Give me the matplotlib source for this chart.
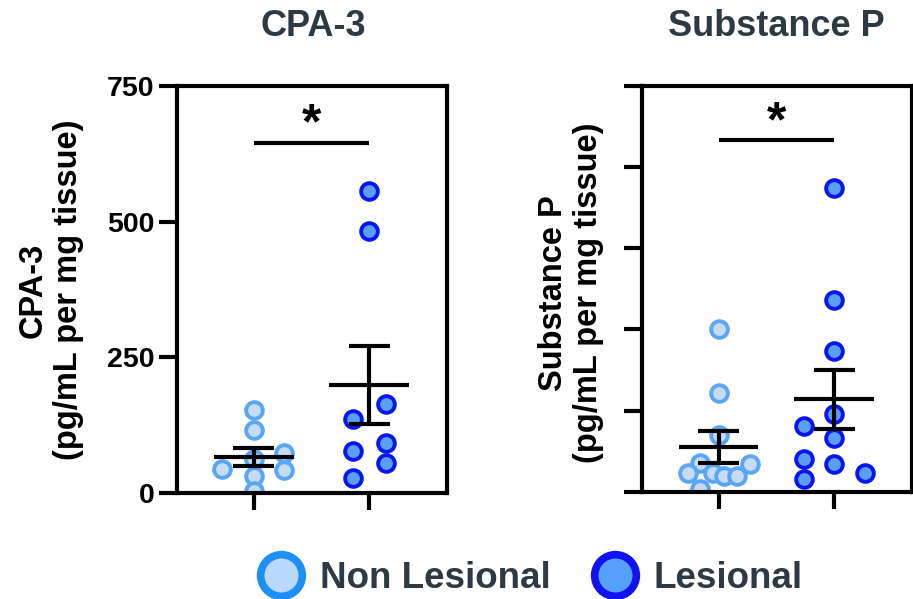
import numpy as np
import matplotlib
matplotlib.use("Agg")
import matplotlib.pyplot as plt
from matplotlib.lines import Line2D

plt.rcParams['font.family'] = ['Liberation Sans', 'DejaVu Sans']
plt.rcParams['font.weight'] = 'bold'

# data
groups = ["Non Lesional", "Lesional"]

cpa_non = [152, 116, 73, 63, 43, 42, 31, 4]
cpa_les = [557, 483, 163, 135, 92, 77, 55, 27]
cpa_sig = 645

sp_non = [100, 61, 35, 17.5, 17, 11.7, 11.3, 9.7, 9.7, 1.5]
sp_les = [187, 118, 87, 48, 40.5, 33, 20, 17, 11.3, 7.6]
sp_sig = 216.5

cpa_ticks = [0, 250, 500, 750]
sp_ticks = [0, 50, 100, 150, 200, 250]

# scatter layout (horizontal spread of the dots)
cpa_non_dx = [0, 0, 0.26, 0, -0.27, 0.26, 0, 0]
cpa_les_dx = [0, 0, 0.145, -0.14, 0.145, -0.14, 0.145, -0.14]
sp_non_dx = [0, 0, 0, -0.16, 0.27, -0.26, -0.05, 0.05, 0.16, -0.16]
sp_les_dx = [0, 0, 0, 0, -0.26, 0, -0.26, 0, 0.265, -0.26]

face = ['#c6dcf6', '#5a9ff5']
edge = ['#5aa6f5', '#0a16ef']
dark = '#2e3a43'


def panel(ax, non, les, non_dx, les_dx, sig, ticks, show_labels):
    for i, (vals, dx) in enumerate([(non, non_dx), (les, les_dx)]):
        ax.plot(i + np.array(dx), vals, 'o', ms=12, mew=2.8,
                mfc=face[i], mec=edge[i], zorder=2)
        m = np.mean(vals)
        s = np.std(vals, ddof=1) / np.sqrt(len(vals))
        ax.hlines(m, i - 0.345, i + 0.345, color='black', lw=3, zorder=3)
        ax.vlines(i, m - s, m + s, color='black', lw=3, zorder=3)
        ax.hlines([m - s, m + s], i - 0.176, i + 0.176, color='black', lw=3, zorder=3)
    ax.plot([0, 1], [sig, sig], color='black', lw=3, solid_capstyle='butt', clip_on=False)
    ax.annotate('*', xy=(0.5, sig), xytext=(0, 3), textcoords='offset points',
                ha='center', va='baseline', fontsize=36, fontweight='bold')
    ax.set_xlim(-0.665, 1.67)
    ax.set_ylim(ticks[0], ticks[-1])
    ax.set_yticks(ticks)
    ax.set_xticks([0, 1])
    ax.set_xticklabels([])
    if not show_labels:
        ax.set_yticklabels([])
    for sp in ax.spines.values():
        sp.set_linewidth(3)
    ax.tick_params(axis='y', length=13, width=3, pad=3, labelsize=20.5)
    ax.tick_params(axis='x', length=12, width=3)


fig = plt.figure(figsize=(9.13, 5.99), dpi=100)
ax1 = fig.add_axes([0.1935, 0.1775, 0.2961, 0.6789])
ax2 = fig.add_axes([0.7028, 0.1791, 0.2957, 0.6773])

panel(ax1, cpa_non, cpa_les, cpa_non_dx, cpa_les_dx, cpa_sig, cpa_ticks, True)
panel(ax2, sp_non, sp_les, sp_non_dx, sp_les_dx, sp_sig, sp_ticks, False)

fig.text(313 / 913, 1 - 27 / 599, 'CPA-3', ha='center', va='center',
         fontsize=26, fontweight='bold', color=dark)
fig.text(776 / 913, 1 - 27 / 599, 'Substance P', ha='center', va='center',
         fontsize=26, fontweight='bold', color=dark)

fig.text(51 / 913, 1 - 290 / 599, 'CPA-3\n(pg/mL per mg tissue)', rotation=90,
         ha='center', va='center', multialignment='center', fontsize=23.5, fontweight='bold')
fig.text(571 / 913, 1 - 293 / 599, 'Substance P\n(pg/mL per mg tissue)', rotation=90,
         ha='center', va='center', multialignment='center', fontsize=23.5, fontweight='bold')

handles = [Line2D([], [], ls='none', marker='o', ms=30, mew=5.5,
                  mfc='#b8d8fc', mec='#1e8ff5'),
           Line2D([], [], ls='none', marker='o', ms=30, mew=5.5,
                  mfc='#569ffa', mec='#1212f0')]
fig.legend(handles, groups, loc='center', bbox_to_anchor=(533 / 913, 1 - 578 / 599),
           ncol=2, frameon=False, handlelength=1.0, handletextpad=0.55,
           columnspacing=1.25, labelcolor=dark,
           prop={'size': 26.5, 'weight': 'bold'})

fig.savefig('out.png', dpi=100)
